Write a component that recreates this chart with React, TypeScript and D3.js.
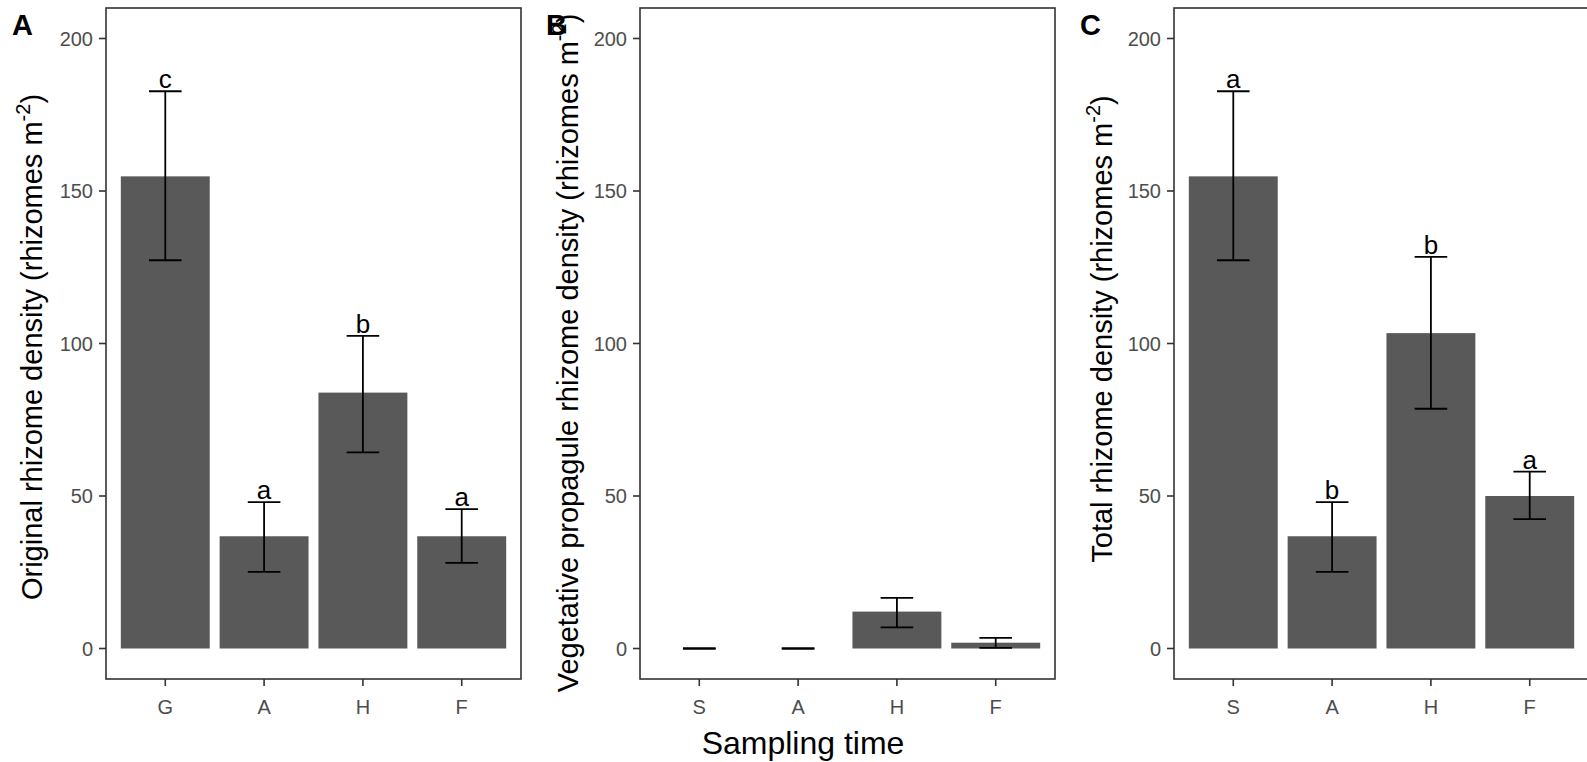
import React from "react";
import * as d3 from "d3";

// ---- Data ----
const catsA = ["G", "A", "H", "F"];
const meanA = [154.8, 36.8, 83.9, 36.8];
const lowA = [127.3, 25.1, 64.3, 28.1];
const highA = [182.7, 48.0, 102.5, 45.7];
const letA = ["c", "a", "b", "a"];

const catsB = ["S", "A", "H", "F"];
const meanB = [0, 0, 12.1, 1.9];
const lowB = [0, 0, 6.9, 0.2];
const highB = [0, 0, 16.6, 3.5];
const letB: string[] = ["", "", "", ""];

const catsC = ["S", "A", "H", "F"];
const meanC = [154.8, 36.8, 103.4, 50.0];
const lowC = [127.3, 25.1, 78.6, 42.4];
const highC = [182.7, 48.0, 128.4, 58.0];
const letC = ["a", "b", "b", "a"];

const yTicks = [0, 50, 100, 150, 200];

const panels = [
  { tag: "A", title: "Original rhizome density (rhizomes m", cats: catsA, mean: meanA, low: lowA, high: highA, letters: letA },
  { tag: "B", title: "Vegetative propagule rhizome density (rhizomes m", cats: catsB, mean: meanB, low: lowB, high: highB, letters: letB },
  { tag: "C", title: "Total rhizome density (rhizomes m", cats: catsC, mean: meanC, low: lowC, high: highC, letters: letC },
];

const W = 1587;
const H = 762;
const FONT = "'Liberation Sans', Arial, sans-serif";
const top = 8;
const bottom = 679;
const frameW = 415;
const lefts = [106, 640, 1174];
const titleCY = [347, 353, 329];
const titleDX = [64, 62, 62];

function Panel({ p, left, idx }: { p: typeof panels[0]; left: number; idx: number }) {
  const y = d3.scaleLinear().domain([-10, 210]).range([bottom, top]);
  const unit = frameW / 4.2;
  const x = d3
    .scaleBand<string>()
    .domain(p.cats)
    .range([left + 0.1 * unit, left + frameW - 0.1 * unit])
    .paddingInner(0.1)
    .paddingOuter(0.05);
  const bw = x.bandwidth();
  const capW = unit * 0.33;
  const cy = titleCY[idx];
  const tx = left - titleDX[idx];
  return (
    <g>
      {p.cats.map((c, i) => {
        const cx = (x(c) as number) + bw / 2;
        return (
          <g key={c}>
            {p.mean[i] > 0 && (
              <rect x={x(c)} y={y(p.mean[i])} width={bw} height={y(0) - y(p.mean[i])} fill="#595959" />
            )}
            <line x1={cx} x2={cx} y1={y(p.low[i])} y2={y(p.high[i])} stroke="#000" strokeWidth={1.8} />
            <line x1={cx - capW / 2} x2={cx + capW / 2} y1={y(p.low[i])} y2={y(p.low[i])} stroke="#000" strokeWidth={1.8} />
            <line x1={cx - capW / 2} x2={cx + capW / 2} y1={y(p.high[i])} y2={y(p.high[i])} stroke="#000" strokeWidth={1.8} />
            {p.letters[i] && (
              <text x={cx} y={y(p.high[i]) - 3} textAnchor="middle" fontSize={26} fill="#000" fontFamily={FONT}>
                {p.letters[i]}
              </text>
            )}
            <line x1={cx} x2={cx} y1={bottom} y2={bottom + 7} stroke="#333" strokeWidth={1.6} />
            <text x={cx} y={714} textAnchor="middle" fontSize={20} fill="#4D4D4D" fontFamily={FONT}>
              {c}
            </text>
          </g>
        );
      })}
      {yTicks.map((t) => (
        <g key={t}>
          <line x1={left - 7} x2={left} y1={y(t)} y2={y(t)} stroke="#333" strokeWidth={1.6} />
          <text x={left - 13} y={y(t)} dy="0.35em" textAnchor="end" fontSize={20} fill="#4D4D4D" fontFamily={FONT}>
            {t}
          </text>
        </g>
      ))}
      <rect x={left} y={top} width={frameW} height={bottom - top} fill="none" stroke="#333" strokeWidth={1.6} />
      <text
        transform={`translate(${tx},${cy}) rotate(-90)`}
        textAnchor="middle"
        fontSize={29}
        fill="#000"
        fontFamily={FONT}
      >
        {p.title}
        <tspan fontSize={20} dy={-12}>-2</tspan>
        <tspan dy={12}>)</tspan>
      </text>
      <text x={left - 94} y={35} fontSize={29} fontWeight="bold" fill="#000" fontFamily={FONT}>
        {p.tag}
      </text>
    </g>
  );
}

export default function App() {
  return (
    <svg width={W} height={H} style={{ position: "absolute", left: 0, top: 0, background: "#fff" }}>
      <rect x={0} y={0} width={W} height={H} fill="#fff" />
      {panels.map((p, i) => (
        <Panel key={p.tag} p={p} left={lefts[i]} idx={i} />
      ))}
      <text x={803} y={754} textAnchor="middle" fontSize={32} fill="#000" fontFamily={FONT}>
        Sampling time
      </text>
    </svg>
  );
}
